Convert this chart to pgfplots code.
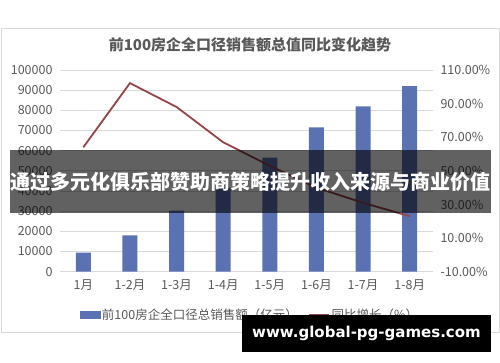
\documentclass[border=0pt]{standalone}
\usepackage{pgfplots}
\pgfplotsset{compat=1.18}
\usepackage{fontspec}
\setmainfont{Noto Sans CJK SC}
\newfontfamily\wmfont{DejaVu Sans}
\definecolor{barblue}{RGB}{91,114,178}
\definecolor{linered}{RGB}{150,68,72}
\definecolor{txtgray}{RGB}{89,89,89}
\definecolor{gridgray}{RGB}{217,217,217}
\begin{document}
\begin{tikzpicture}[x=1pt,y=1pt]
\path[use as bounding box] (0,0) rectangle (500,362);
\fill[white] (0,0) rectangle (500,362);
\draw[gridgray, line width=1pt] (1,30) rectangle (499,333);
\node[font=\fontsize{15}{18}\selectfont\bfseries, text=txtgray] at (250,317) {前100房企全口径销售额总值同比变化趋势};
\begin{axis}[
  at={(60pt,90.3pt)}, anchor=south west, scale only axis,
  width=373pt, height=201.7pt,
  xmin=-0.5, xmax=7.5, ymin=0, ymax=100000,
  axis x line*=bottom, axis y line*=left,
  x axis line style={gridgray, line width=1pt, -},
  y axis line style={draw=none},
  major tick length=0pt,
  ytick={0,10000,...,100000},
  ymajorgrids, grid style={gridgray, line width=0.8pt},
  xtick={0,...,7},
  xticklabels={1月,1-2月,1-3月,1-4月,1-5月,1-6月,1-7月,1-8月},
  scaled y ticks=false,
  yticklabel={\pgfmathprintnumber[fixed,precision=0,1000 sep={},assume math mode=true]{\tick}},
  tick label style={font=\fontsize{12.5}{14}\selectfont, text=txtgray},
  yticklabel style={xshift=-4pt},
  xticklabel style={yshift=-4pt},
  ybar, bar width=15pt,
]
\addplot[fill=barblue, draw=none] coordinates {(0,9500) (1,18000) (2,30300) (3,41500) (4,56600) (5,71500) (6,82000) (7,92000)};
\end{axis}
\begin{axis}[
  at={(60pt,90.3pt)}, anchor=south west, scale only axis,
  width=373pt, height=201.7pt,
  xmin=-0.5, xmax=7.5, ymin=-10, ymax=110,
  axis x line=none, axis y line*=right,
  y axis line style={draw=none},
  major tick length=0pt,
  ytick={-10,10,...,110},
  yticklabel={\pgfmathprintnumber[fixed,fixed zerofill,precision=2,assume math mode=true]{\tick}\%},
  tick label style={font=\fontsize{12.5}{14}\selectfont, text=txtgray},
  yticklabel style={xshift=4pt},
  legend columns=2,
  legend style={at={(0.509,-0.215)}, anchor=center, draw=none, fill=none,
    font=\fontsize{12.5}{14}\selectfont, text=txtgray,
    /tikz/every even column/.append style={column sep=8pt}},
]
\addlegendimage{legend image code/.code={\fill[barblue] (0pt,-3.5pt) rectangle (20pt,3.5pt);}}
\addlegendentry{前100房企全口径总销售额（亿元）}
\addplot[linered, line width=1.8pt, legend image code/.code={\draw[linered, line width=1.8pt] (0pt,0pt)--(20pt,0pt);}] coordinates {(0,64) (1,102.2) (2,88) (3,67) (4,53) (5,40) (6,31) (7,23)};
\addlegendentry{同比增长（\%）}
\end{axis}
\fill[black, opacity=0.62] (10,149) rectangle (491,212);
\node[font=\fontsize{20}{24}\selectfont\bfseries, text=white] at (250.5,180.5) {通过多元化俱乐部赞助商策略提升收入来源与商业价值};
\fill[black] (242,10) rectangle (491,47);
\node[font=\wmfont\fontsize{15}{18}\selectfont\bfseries, text=white] at (366.5,28.5) {www.global-pg-games.com};
\end{tikzpicture}
\end{document}
